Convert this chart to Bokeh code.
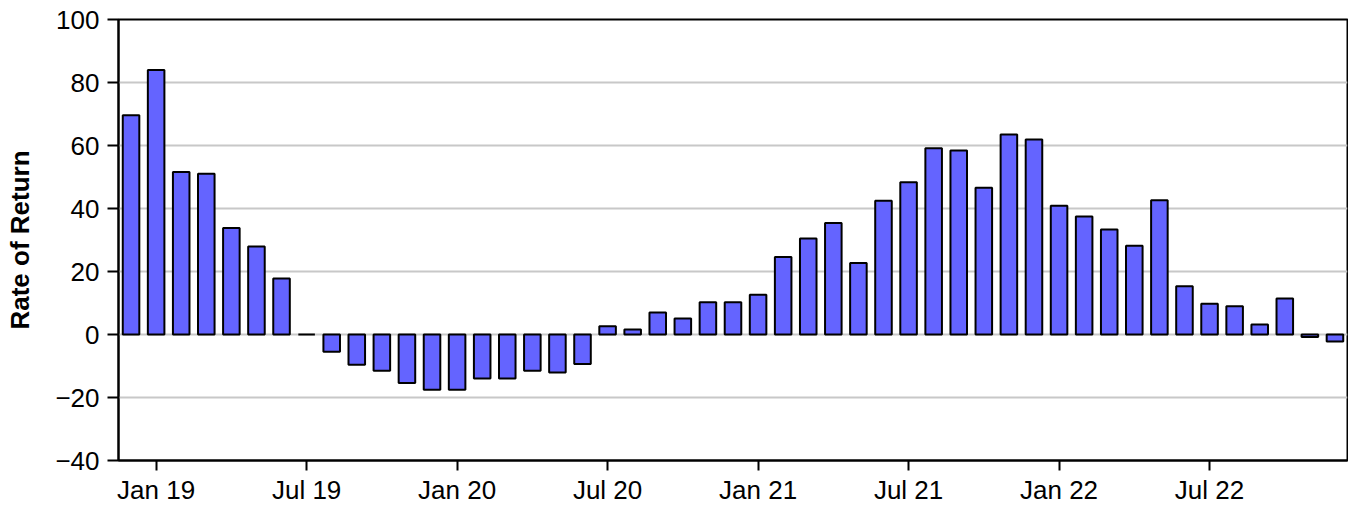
from bokeh.plotting import figure
from bokeh.models import ColumnDataSource, FixedTicker, Range1d
from bokeh.embed import file_html
from bokeh.resources import INLINE

months = ["Dec 18", "Jan 19", "Feb 19", "Mar 19", "Apr 19", "May 19", "Jun 19",
          "Jul 19", "Aug 19", "Sep 19", "Oct 19", "Nov 19", "Dec 19",
          "Jan 20", "Feb 20", "Mar 20", "Apr 20", "May 20", "Jun 20",
          "Jul 20", "Aug 20", "Sep 20", "Oct 20", "Nov 20", "Dec 20",
          "Jan 21", "Feb 21", "Mar 21", "Apr 21", "May 21", "Jun 21",
          "Jul 21", "Aug 21", "Sep 21", "Oct 21", "Nov 21", "Dec 21",
          "Jan 22", "Feb 22", "Mar 22", "Apr 22", "May 22", "Jun 22",
          "Jul 22", "Aug 22", "Sep 22", "Oct 22", "Nov 22", "Dec 22"]

returns = [69.6, 84.0, 51.6, 51.0, 33.8, 27.9, 17.8,
           0.0, -5.5, -9.6, -11.5, -15.4, -17.5,
           -17.5, -14.0, -14.0, -11.5, -12.1, -9.4,
           2.6, 1.6, 7.0, 5.1, 10.2, 10.2,
           12.6, 24.6, 30.5, 35.4, 22.7, 42.5,
           48.3, 59.1, 58.4, 46.6, 63.5, 61.9,
           40.9, 37.5, 33.3, 28.2, 42.6, 15.3,
           9.8, 9.0, 3.2, 11.4, -0.8, -2.2]

x_tick_labels = ["Jan 19", "Jul 19", "Jan 20", "Jul 20", "Jan 21", "Jul 21", "Jan 22", "Jul 22"]
y_ticks = [-40, -20, 0, 20, 40, 60, 80, 100]
y_tick_labels = ["\u221240", "\u221220", "0", "20", "40", "60", "80", "100"]

idx = list(range(len(months)))
source = ColumnDataSource(data=dict(x=idx, month=months, ret=returns))

x_tick_pos = [months.index(m) for m in x_tick_labels]

p = figure(width=1348, height=507, output_backend="svg", toolbar_location=None,
           x_range=Range1d(-0.5, len(months) - 0.5), y_range=Range1d(-40, 100),
           min_border_left=118, min_border_top=19, min_border_right=1, min_border_bottom=0)

p.vbar(x="x", top="ret", bottom=0, width=0.66, source=source,
       fill_color="#6464FF", line_color="black", line_width=2)

FONT = "Liberation Sans"

p.xaxis.ticker = FixedTicker(ticks=x_tick_pos)
p.xaxis.major_label_overrides = {pos: lab for pos, lab in zip(x_tick_pos, x_tick_labels)}
p.yaxis.ticker = FixedTicker(ticks=y_ticks)
p.yaxis.major_label_overrides = {t: lab for t, lab in zip(y_ticks, y_tick_labels)}

for ax in (p.xaxis[0], p.yaxis[0]):
    ax.axis_line_color = "black"
    ax.axis_line_width = 2
    ax.major_tick_line_color = "black"
    ax.major_tick_line_width = 2
    ax.minor_tick_line_color = None
    ax.major_tick_in = 0
    ax.major_label_text_font = FONT
    ax.major_label_text_font_size = "26px"
    ax.major_label_text_color = "black"

p.xaxis.major_tick_out = 10
p.xaxis.major_label_standoff = 4
p.yaxis.major_tick_out = 11
p.yaxis.major_label_standoff = 8

p.yaxis.axis_label = "Rate of Return"
p.yaxis.axis_label_text_font = FONT
p.yaxis.axis_label_text_font_size = "26px"
p.yaxis.axis_label_text_font_style = "bold"
p.yaxis.axis_label_text_color = "black"
p.yaxis.axis_label_standoff = 17

p.xgrid.grid_line_color = None
p.ygrid.grid_line_color = "#C8C8C8"
p.ygrid.grid_line_width = 2

p.outline_line_color = "black"
p.outline_line_width = 2
p.outline_line_alpha = 1.0
p.background_fill_color = "white"
p.border_fill_color = "white"

open("out.html", "w").write(file_html(p, INLINE))
